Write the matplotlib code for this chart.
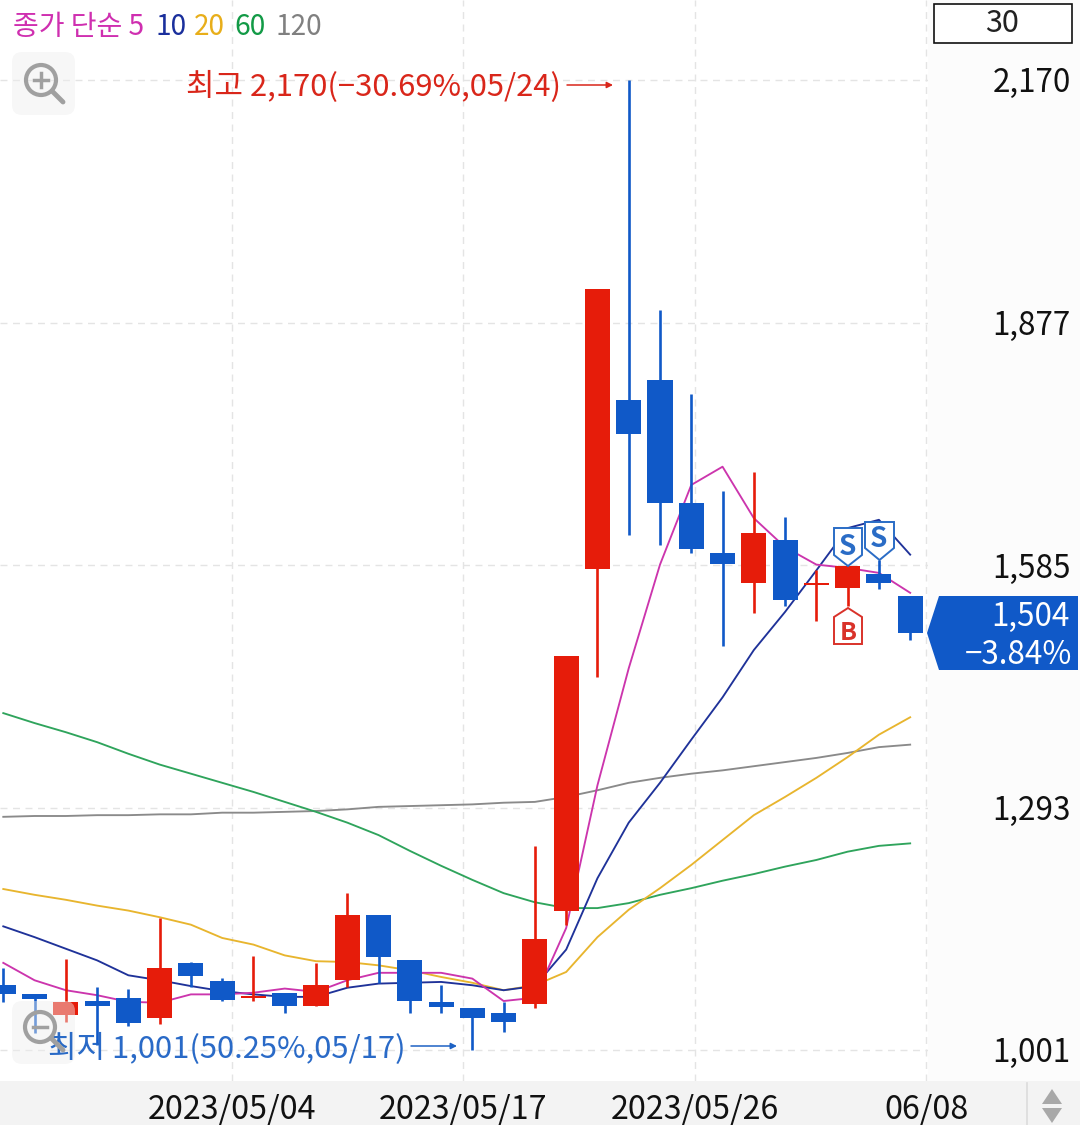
import matplotlib
matplotlib.use("Agg")
import matplotlib.pyplot as plt
from matplotlib.patches import Polygon, Rectangle, FancyBboxPatch, Circle
from matplotlib.transforms import ScaledTranslation

plt.rcParams['font.family'] = ['Noto Sans CJK KR', 'DejaVu Sans']

# ---------- data ----------
opens  = [1079,1068,1043,1060,1064,1040,1106,1084,1064,1070,1054,1085,1164,1109,1059,1052,1046,1056,1169,1581,1784,1808,1660,1600,1564,1616,1562,1558,1575,1548]
closes = [1068,1062,1059,1054,1034,1100,1090,1061,1066,1054,1079,1164,1113,1060,1053,1040,1035,1135,1476,1918,1743,1660,1605,1587,1624,1543,1564,1584,1564,1504]
highs  = [1100,1068,1111,1077,1075,1160,1107,1088,1114,1070,1106,1190,1164,1109,1079,1052,1059,1247,1476,1918,2170,1893,1792,1675,1698,1643,1579,1584,1592,1548]
lows   = [1059,1021,1035,1007,1030,1032,1077,1060,1060,1046,1054,1077,1082,1046,1046,1001,1023,1052,1152,1451,1622,1610,1600,1488,1528,1536,1518,1536,1557,1495]
ma5   = [1106,1085,1073,1067,1059,1058,1068,1068,1070,1075,1071,1085,1094,1094,1094,1087,1060,1064,1148,1320,1461,1586,1682,1704,1642,1607,1586,1582,1576,1552]
ma10  = [1150,1137,1123,1109,1091,1085,1078,1072,1068,1065,1065,1076,1081,1082,1083,1079,1073,1078,1122,1208,1275,1323,1375,1426,1483,1529,1579,1630,1640,1598]
ma20  = [1195,1188,1182,1175,1169,1161,1152,1136,1128,1115,1108,1107,1103,1097,1089,1082,1073,1079,1095,1137,1170,1196,1224,1254,1284,1306,1329,1354,1381,1402]
ma60  = [1407,1395,1384,1372,1358,1345,1334,1323,1312,1300,1288,1275,1260,1241,1223,1206,1190,1179,1172,1172,1178,1188,1196,1205,1213,1222,1230,1240,1247,1250]
ma120 = [1282,1283,1283,1284,1284,1285,1285,1287,1287,1288,1289,1291,1294,1295,1296,1297,1299,1300,1306,1314,1323,1329,1334,1338,1343,1348,1353,1359,1366,1369]
price_ticks = [1001, 1293, 1585, 1877, 2170]
price_labels = ['1,001', '1,293', '1,585', '1,877', '2,170']
date_ticks = [7.31, 14.70, 22.12, 29.52]
date_labels = ['2023/05/04', '2023/05/17', '2023/05/26', '06/08']
legend_items = [('종가 단순 5', '#cf2fb0', 13), ('10', '#1a2f9c', 155), ('20', '#e8ae1a', 194),
                ('60', '#129a46', 234), ('120', '#808080', 275)]

RED, BLUE = '#e61c0a', '#1059c8'
W, H = 1080, 1125

fig = plt.figure(figsize=(W/100, H/100), dpi=100, facecolor='#fcfcfc')
fig.patches.append(Rectangle((0, 0), 1, 44/H, transform=fig.transFigure, fc='#f3f3f3', ec='none', zorder=-1))

ax = fig.add_axes([0, 44/H, 928/W, 1081/H])
ax.set_facecolor('white')
ax.set_xlim(-0.105, 29.57)
ax.set_ylim(963.6, 2266.5)
for s in ax.spines.values():
    s.set_visible(False)

ax.yaxis.tick_right()
ax.set_yticks(price_ticks, price_labels)
ax.set_xticks(date_ticks, date_labels)
ax.tick_params(axis='y', length=0, labelsize=22.6, pad=102.7, labelcolor='#111111')
ax.tick_params(axis='x', length=0, labelsize=23.2, pad=9, labelcolor='#111111')
up1 = ScaledTranslation(0, 0.5/100, fig.dpi_scale_trans)
for t in ax.get_yticklabels():
    t.set_ha('right')
    t.set_transform(t.get_transform() + up1)
ax.grid(True, color='#e4e4e4', lw=1.0, ls=(0, (5, 4)))
ax.set_axisbelow(True)

xs = list(range(len(opens)))
for vals, c in [(ma120, '#8a8a8a'), (ma60, '#2fa45c'), (ma20, '#e8b52e'), (ma10, '#1f3299'), (ma5, '#cc35ad')]:
    ax.plot(xs, vals, color=c, lw=1.35, zorder=3, solid_joinstyle='round')

for i in xs:
    up = closes[i] >= opens[i]
    c = RED if up else BLUE
    ax.vlines(i, lows[i], highs[i], color=c, lw=1.9, zorder=4)
    lo, hi = min(opens[i], closes[i]), max(opens[i], closes[i])
    ax.bar(i, hi - lo, bottom=lo, width=0.8, color=c, lw=0, zorder=5)

# ---------- pixel-space overlay ----------
ov = fig.add_axes([0, 0, 1, 1], facecolor='none')
ov.set_xlim(0, W); ov.set_ylim(H, 0); ov.axis('off')

for txt, c, x in legend_items:
    ov.text(x, 27, txt, color=c, fontsize=20.2, va='center', ha='left')

ov.add_patch(Rectangle((933.5, 3.5), 138, 39, fc='white', ec='#111111', lw=1.2))
ov.text(1002, 24, '30', fontsize=22, ha='center', va='center', color='#222222')

ov.text(186, 87, '최고 2,170(−30.69%,05/24)', color='#d9261a', fontsize=22.3, va='center', ha='left')
ov.annotate('', xy=(613, 85), xytext=(567, 85),
            arrowprops=dict(arrowstyle='-|>', color='#d9261a', lw=1.1, mutation_scale=9, shrinkA=0, shrinkB=0))
ov.text(48, 1049, '최저 1,001(50.25%,05/17)', color='#1e62c4', fontsize=22.3, va='center', ha='left', alpha=0.95)
ov.annotate('', xy=(457, 1046), xytext=(411, 1046),
            arrowprops=dict(arrowstyle='-|>', color='#1e62c4', lw=1.1, mutation_scale=9, shrinkA=0, shrinkB=0))

# zoom buttons
for y0 in (52, 1001):
    ov.add_patch(FancyBboxPatch((20, y0 + 8), 47, 47, boxstyle='round,pad=8,rounding_size=10',
                                fc='#eeeeee', ec='none', alpha=0.45, zorder=1))
ICON = '#a0a0a0'
ov.add_patch(Circle((41, 80), 15, fc='none', ec=ICON, lw=3))
ov.plot([52, 63], [91, 102], color=ICON, lw=3.5, solid_capstyle='round')
ov.plot([34, 48], [80, 80], color=ICON, lw=2.5)
ov.plot([41, 41], [73, 87], color=ICON, lw=2.5)
ov.add_patch(Circle((40, 1027), 15, fc='none', ec=ICON, lw=3, zorder=6))
ov.plot([51, 63], [1038, 1050], color=ICON, lw=3.5, solid_capstyle='round', zorder=6)
ov.plot([33, 47], [1027, 1027], color=ICON, lw=2.5, zorder=6)

# S / B signals
def shield(xl, xr, top, sh, tip, color):
    xm = (xl + xr) / 2
    ov.add_patch(Polygon([(xl, top), (xr, top), (xr, sh), (xm, tip), (xl, sh)],
                         closed=True, fc='white', ec=color, lw=1.4, zorder=7))
shield(834, 862, 528, 555, 566, '#2a6cc6')
shield(865, 894, 522, 548, 560, '#2a6cc6')
ov.text(848, 547, 'S', color='#2a6cc6', fontsize=20, fontweight='bold', ha='center', va='center', zorder=8)
ov.text(879, 539, 'S', color='#2a6cc6', fontsize=20, fontweight='bold', ha='center', va='center', zorder=8)
ov.add_patch(Polygon([(848, 608), (862, 617), (862, 644), (834, 644), (834, 617)],
                     closed=True, fc='white', ec='#d9322a', lw=1.4, zorder=7))
ov.text(848, 633, 'B', color='#d9322a', fontsize=18, fontweight='bold', ha='center', va='center', zorder=8)

# current price tag
ov.add_patch(Polygon([(927, 633), (939, 596), (1078, 596), (1078, 670), (939, 670)],
                     closed=True, fc='#1059c8', ec='none', zorder=6))
ov.text(1070, 617, '1,504', color='white', fontsize=22.6, ha='right', va='center', zorder=8)
ov.text(1072, 655, '−3.84%', color='white', fontsize=22.6, ha='right', va='center', zorder=8)

# scroll widget
ov.plot([1027, 1027], [1083, 1125], color='#dcdcdc', lw=1.2)
ov.add_patch(Polygon([(1042, 1104), (1062, 1104), (1052, 1089)], fc='#a8a8a8', ec='none'))
ov.add_patch(Polygon([(1042, 1108), (1062, 1108), (1052, 1123)], fc='#a8a8a8', ec='none'))

fig.savefig('out.png', dpi=100, facecolor=fig.get_facecolor())
